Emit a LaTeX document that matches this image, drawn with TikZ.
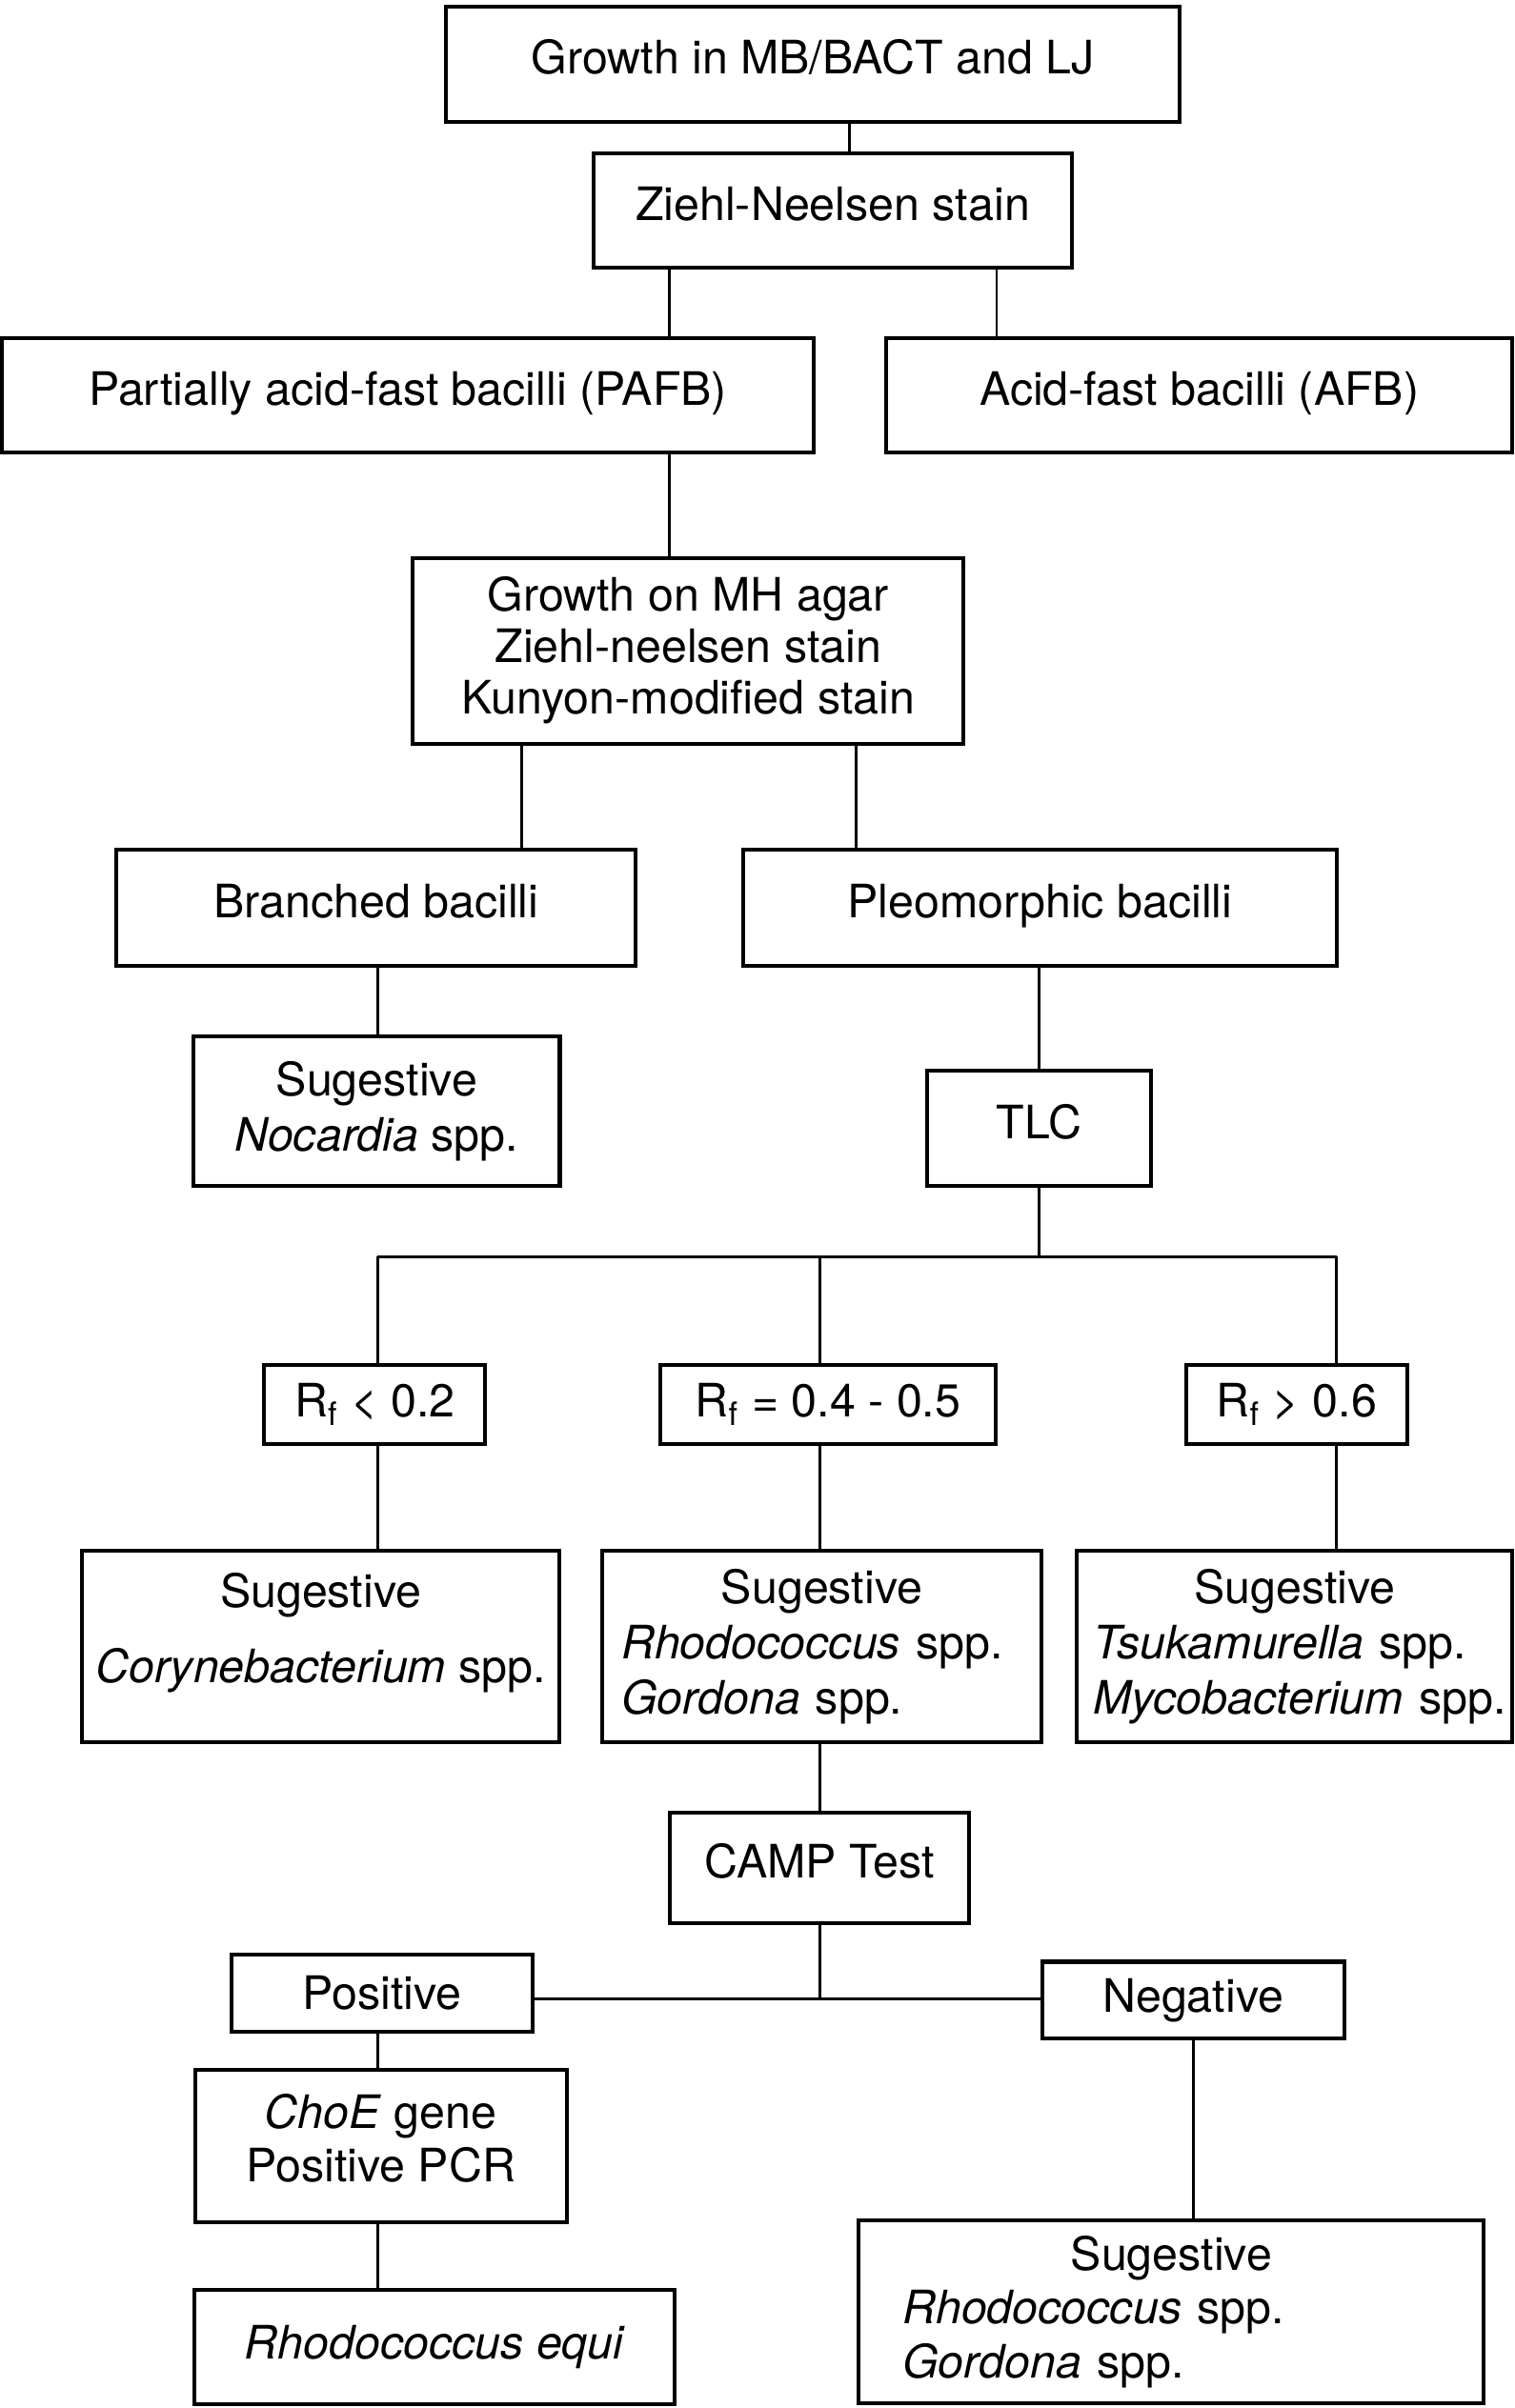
\documentclass[tikz,border=0pt]{standalone}
\usepackage{fontspec}
\setmainfont{TeX Gyre Heros}

\tikzset{
  box/.style={draw, line width=1.25pt, inner sep=0pt, align=center, font=\fontsize{15}{17.5}\selectfont},
  onerow/.style={text height=11pt, text depth=4.5pt},
  dims/.style 2 args={minimum width=#1*0.5pt, minimum height=#2*0.5pt},
  link/.style={line width=0.9pt},
}
\newcommand{\firstline}[1]{\makebox[\hsize][c]{#1}}

\begin{document}
\begin{tikzpicture}[x=0.5pt,y=-0.5pt]
\useasboundingbox (0,0) rectangle (986,1568);
% boxes, top to bottom
\node[box, onerow, dims={477.3}{75}] (growth) at (529.2,41.6) {Growth in MB/BACT and LJ};
\node[box, onerow, dims={311.3}{74.6}] (zn) at (542.1,137) {Ziehl-Neelsen stain};
\node[box, onerow, dims={528}{75}] (pafb) at (265.5,257.4) {Partially acid-fast bacilli (PAFB)};
\node[box, onerow, dims={407.7}{75}] (afb) at (780.7,257.4) {Acid-fast bacilli (AFB)};
\node[box, dims={358.7}{121}, font=\fontsize{15}{16.75}\selectfont] (mh) at (448,423.7) {Growth on MH agar\\Ziehl-neelsen stain\\Kunyon-modified stain};
\node[box, onerow, dims={338.4}{75.5}] (branched) at (244.8,591) {Branched bacilli};
\node[box, onerow, dims={386}{75.5}] (pleo) at (677,591) {Pleomorphic bacilli};
\node[box, dims={238.4}{97.6}, font=\fontsize{15}{18}\selectfont] (nocardia) at (245.2,723.5) {Sugestive\\\textit{Nocardia} spp.};
\node[box, onerow, dims={145.6}{75}] (tlc) at (676.2,734.8) {TLC};
\node[box, dims={144}{51}] (rf1) at (244,914.5) {R\textsubscript{f} < 0.2};
\node[box, dims={218}{51}] (rf2) at (539,914.5) {R\textsubscript{f} = 0.4 - 0.5};
\node[box, dims={144}{51}] (rf3) at (844,914.5) {R\textsubscript{f} > 0.6};
\node[box, dims={310.5}{125}] (coryne) at (208.8,1072.2) {\begin{tabular}{@{}c@{}}Sugestive\\[7pt]\textit{Corynebacterium} spp.\\[8pt]\end{tabular}};
\node[box, dims={286}{125}, text width=130.5pt, align=left, font=\fontsize{15}{18}\selectfont] (rhodo) at (535,1072.2) {\firstline{Sugestive}\\\textit{Rhodococcus} spp.\\\textit{Gordona} spp.};
\node[box, dims={283.5}{125}, text width=131pt, align=left, font=\fontsize{15}{18}\selectfont] (tsuka) at (842.8,1072.2) {\firstline{Sugestive}\\\mbox{\textit{Tsukamurella} spp.}\\\mbox{\textit{Mycobacterium} spp.}};
\node[box, onerow, dims={195}{72}] (camp) at (533.5,1216.5) {CAMP Test};
\node[box, dims={196}{50}] (pos) at (248.8,1297.9) {Positive};
\node[box, dims={196.6}{50}] (neg) at (776.7,1302.4) {Negative};
\node[box, dims={242}{99}] (choe) at (247.9,1397.4) {\begin{tabular}{@{}c@{}}\textit{ChoE} gene\\Positive PCR\\[1pt]\end{tabular}};
\node[box, dims={312.6}{74.5}] (equi) at (283.1,1528.2) {\textit{Rhodococcus equi}};
\node[box, dims={407}{118.6}, text width=175pt, align=left] (negsug) at (762.5,1505.3) {\firstline{Sugestive}\\\textit{Rhodococcus} spp.\\\textit{Gordona} spp.};

% x of the vertical links
\coordinate (xa) at (553,0);
\coordinate (xb) at (435.7,0);
\coordinate (xc) at (648.8,0);
\coordinate (xd) at (339.8,0);
\coordinate (xe) at (557.3,0);
\coordinate (xf) at (245.9,0);
\coordinate (xg) at (676.5,0);
\coordinate (xh) at (534,0);
\coordinate (xi) at (870,0);
\coordinate (xj) at (776.7,0);
% y of the two horizontal links
\coordinate (tlcbus) at (0,818.4);
\coordinate (campbus) at (0,1301.4);

\draw[link] (growth.south -| xa) -- (zn.north -| xa);
\draw[link] (zn.south -| xb) -- (pafb.north -| xb);
\draw[link] (zn.south -| xc) -- (afb.north -| xc);
\draw[link] (pafb.south -| xb) -- (mh.north -| xb);
\draw[link] (mh.south -| xd) -- (branched.north -| xd);
\draw[link] (mh.south -| xe) -- (pleo.north -| xe);
\draw[link] (branched.south -| xf) -- (nocardia.north -| xf);
\draw[link] (pleo.south -| xg) -- (tlc.north -| xg);
\draw[link] (tlc.south -| xg) -- (tlcbus -| xg);
\draw[link] (tlcbus -| xf) -- (tlcbus -| xi);
\foreach \x/\r/\s in {xf/rf1/coryne, xh/rf2/rhodo, xi/rf3/tsuka} % the three R_f columns
{
\draw[link] (tlcbus -| \x) -- (\r.north -| \x);
\draw[link] (\r.south -| \x) -- (\s.north -| \x);
}
\draw[link] (rhodo.south -| xh) -- (camp.north -| xh);
\draw[link] (camp.south -| xh) -- (campbus -| xh);
\draw[link] (pos.east |- campbus) -- (neg.west |- campbus);
\draw[link] (pos.south -| xf) -- (choe.north -| xf);
\draw[link] (choe.south -| xf) -- (equi.north -| xf);
\draw[link] (neg.south -| xj) -- (negsug.north -| xj);

\end{tikzpicture}
\end{document}
